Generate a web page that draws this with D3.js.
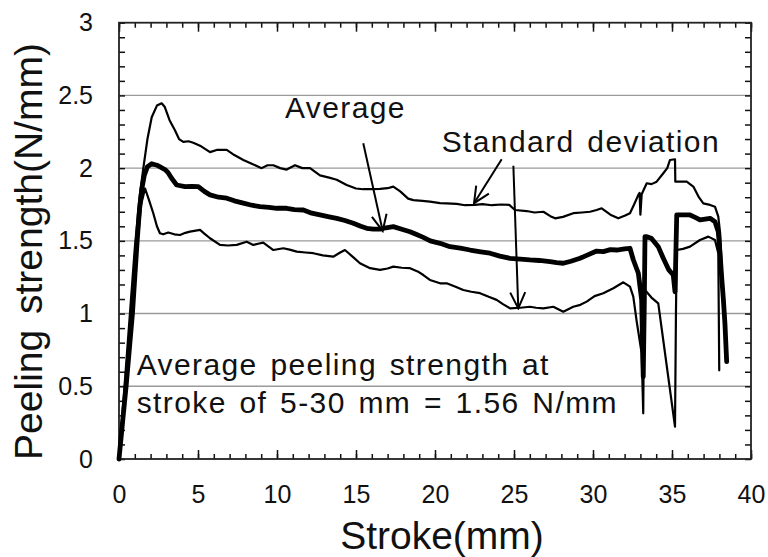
<!DOCTYPE html>
<html>
<head>
<meta charset="utf-8">
<script src="https://cdn.jsdelivr.net/npm/d3@7/dist/d3.min.js"></script>
<style>
  html, body { margin: 0; padding: 0; background: #fff; }
  svg { display: block; font-family: "Liberation Sans", Arial, Helvetica, sans-serif; }
</style>
</head>
<body>
<svg id="chart" width="768" height="557"></svg>
<script>
// Peel test: stroke (mm) vs peeling strength (N/mm)
const xMajorTicks = [0, 5, 10, 15, 20, 25, 30, 35, 40];
const yMajorTicks = [0, 0.5, 1, 1.5, 2, 2.5, 3];
const yGridLines = [0.5, 1, 1.5, 2, 2.5];

// mean + standard deviation
const upperSeries = [
  [0,0],[0.5,0.72],[1.0,1.45],[1.3,1.8],[1.54,2.0],[1.8,2.2],[2.07,2.35],[2.4,2.43],[2.7,2.446],
  [2.9,2.42],[3.2,2.33],[3.54,2.26],[3.8,2.2],[4.07,2.18],[4.4,2.185],[4.7,2.175],[5.2,2.15],
  [5.76,2.11],[6.18,2.125],[6.82,2.125],[7.3,2.09],[7.87,2.056],[8.4,2.03],[9.03,2.0],[9.4,2.02],
  [9.77,2.02],[10.2,2.0],[10.61,1.99],[11.14,2.02],[11.6,2.0],[12.09,2.0],[12.72,1.95],[13.3,1.935],
  [13.78,1.92],[14.41,1.884],[15.0,1.86],[15.46,1.855],[16.0,1.855],[16.52,1.858],[17.0,1.862],
  [17.36,1.873],[17.8,1.84],[18.3,1.79],[18.63,1.78],[19.2,1.775],[19.68,1.77],[20.32,1.76],
  [20.74,1.758],[21.37,1.754],[21.9,1.745],[22.53,1.747],[23.0,1.752],[23.6,1.745],[24.2,1.75],
  [24.7,1.747],[25.06,1.712],[25.8,1.705],[26.3,1.695],[26.86,1.70],[27.3,1.67],[27.6,1.655],
  [28.1,1.665],[28.75,1.69],[29.3,1.695],[29.81,1.70],[30.23,1.712],[30.55,1.724],[31.1,1.68],
  [31.6,1.655],[32.0,1.672],[32.34,1.69],[32.6,1.75],[32.87,1.816],[32.95,1.83],[33.0,1.68],
  [33.08,1.82],[33.4,1.896],[33.7,1.89],[34.03,1.907],[34.45,1.965],[34.7,2.0],[34.87,2.056],
  [35.19,2.061],[35.21,1.907],[35.93,1.907],[36.35,1.873],[36.7,1.80],[36.98,1.758],[37.41,1.747],
  [37.72,1.735],[37.93,1.666],[38.05,1.55],[38.2,1.2],[38.4,0.85]
];

// average of the specimens
const averageSeries = [
  [0,0],[0.25,0.28],[0.45,0.5],[0.65,0.75],[0.85,1.0],[1.0,1.25],[1.15,1.5],[1.3,1.72],[1.45,1.86],
  [1.6,1.95],[1.8,2.01],[2.07,2.03],[2.4,2.02],[2.91,1.99],[3.1,1.97],[3.33,1.93],[3.65,1.884],
  [4.18,1.873],[4.6,1.875],[5.02,1.873],[5.4,1.84],[5.76,1.816],[6.3,1.80],[6.82,1.793],[7.3,1.775],
  [7.87,1.759],[8.4,1.745],[8.92,1.735],[9.5,1.73],[9.98,1.724],[10.61,1.724],[11.1,1.715],
  [11.67,1.712],[12.2,1.69],[12.72,1.678],[13.3,1.665],[13.78,1.655],[14.3,1.64],[14.83,1.621],
  [15.3,1.60],[15.68,1.586],[16.1,1.58],[16.52,1.58],[16.9,1.59],[17.36,1.598],[17.9,1.58],
  [18.42,1.563],[18.8,1.545],[19.26,1.524],[19.7,1.50],[20.32,1.483],[20.95,1.46],[21.6,1.45],
  [22.22,1.437],[22.9,1.425],[23.48,1.415],[24.1,1.395],[24.75,1.38],[25.4,1.375],[26.01,1.369],
  [26.6,1.365],[27.28,1.357],[27.7,1.35],[28.12,1.346],[28.6,1.36],[29.18,1.38],[29.6,1.40],
  [30.23,1.43],[30.65,1.426],[31.1,1.44],[31.5,1.437],[32.0,1.445],[32.34,1.449],[32.55,1.37],
  [32.87,1.277],[33.08,1.094],[33.18,0.566],[33.25,1.10],[33.29,1.529],[33.37,1.529],[33.69,1.518],
  [34.13,1.46],[34.45,1.38],[34.8,1.30],[35.08,1.265],[35.19,1.15],[35.3,1.678],[35.7,1.678],
  [36.14,1.678],[36.5,1.66],[36.77,1.644],[37.1,1.65],[37.41,1.655],[37.72,1.632],[37.93,1.563],
  [38.05,1.40],[38.14,1.254],[38.25,1.10],[38.35,0.933],[38.46,0.67]
];

// mean - standard deviation
const lowerSeries = [
  [0,0],[0.4,0.45],[0.75,0.95],[1.1,1.4],[1.4,1.75],[1.65,1.86],[1.9,1.78],[2.17,1.69],[2.4,1.6],
  [2.59,1.552],[2.8,1.545],[3.12,1.557],[3.5,1.545],[3.86,1.54],[4.2,1.555],[4.49,1.563],
  [5.13,1.575],[5.4,1.55],[5.76,1.518],[6.39,1.472],[6.9,1.468],[7.45,1.472],[8.08,1.494],
  [8.5,1.472],[8.8,1.48],[9.13,1.488],[9.77,1.437],[10.4,1.449],[10.8,1.44],[11.25,1.426],
  [11.8,1.42],[12.3,1.415],[12.9,1.40],[13.56,1.391],[14.0,1.42],[14.3,1.437],[14.8,1.39],
  [15.25,1.346],[15.89,1.312],[16.52,1.30],[17.0,1.31],[17.36,1.323],[17.9,1.315],[18.42,1.312],
  [18.9,1.29],[19.26,1.265],[19.68,1.231],[20.32,1.208],[20.74,1.208],[21.3,1.185],[21.79,1.162],
  [22.3,1.15],[22.85,1.14],[23.4,1.115],[23.9,1.094],[24.3,1.065],[24.75,1.036],[25.4,1.04],
  [26.01,1.047],[26.4,1.04],[26.86,1.036],[27.49,1.047],[28.12,1.013],[28.75,1.047],[29.2,1.06],
  [29.6,1.082],[30.1,1.12],[30.65,1.14],[31.29,1.174],[31.92,1.215],[32.34,1.185],[32.55,1.116],
  [32.76,0.95],[33.08,0.727],[33.18,0.314],[33.22,0.9],[33.29,1.162],[33.7,1.11],[34.13,1.07],
  [35.19,0.222],[35.25,1.0],[35.3,1.437],[35.7,1.445],[36.14,1.46],[36.77,1.506],[37.3,1.529],
  [37.72,1.506],[37.93,1.415],[37.99,0.61]
];

// annotation arrows in data units: [fromX, fromY, toX, toY]
const averageArrow = [15.46, 2.171, 16.69, 1.568];
const sdArrows = [
  [24.22, 2.061, 22.47, 1.759],
  [24.96, 2.017, 25.27, 1.036]
];
const noteLines = ["Average peeling strength at", "stroke of 5-30 mm = 1.56 N/mm"];

const svg = d3.select("#chart");
const margin = { left: 119, right: 17, top: 22.7, bottom: 98 };
const W = 768, H = 557;

const x = d3.scaleLinear().domain([0, 40]).range([margin.left, W - margin.right]);
const y = d3.scaleLinear().domain([0, 3]).range([H - margin.bottom, margin.top]);

const minorX = d3.range(0, 41, 1);
const minorY = d3.range(0, 31, 1).map(d => d / 10);

// horizontal grid
svg.append("g").selectAll("line").data(yGridLines).join("line")
  .attr("x1", x(0)).attr("x2", x(40))
  .attr("y1", d => y(d)).attr("y2", d => y(d))
  .attr("stroke", "#9a9a9a").attr("stroke-width", 1.4);

// axes with inward ticks
const tickFont = g => g.selectAll("text")
  .attr("font-size", 25).attr("fill", "#111")
  .attr("font-family", "'Liberation Sans', Arial, sans-serif");
const cleanAxis = g => { g.select(".domain").remove(); g.selectAll("line").attr("stroke", "#111").attr("stroke-width", 1.5); };

// bottom
svg.append("g").attr("transform", `translate(0,${y(0)})`)
  .call(d3.axisBottom(x).tickValues(minorX).tickSize(-5).tickFormat(""))
  .call(cleanAxis);
svg.append("g").attr("transform", `translate(0,${y(0)})`)
  .call(d3.axisBottom(x).tickValues(xMajorTicks).tickSize(-9).tickPadding(26).tickFormat(d3.format("d")))
  .call(cleanAxis).call(tickFont);
// top
svg.append("g").attr("transform", `translate(0,${y(3)})`)
  .call(d3.axisTop(x).tickValues(minorX).tickSize(-5).tickFormat(""))
  .call(cleanAxis);
svg.append("g").attr("transform", `translate(0,${y(3)})`)
  .call(d3.axisTop(x).tickValues(xMajorTicks).tickSize(-9).tickFormat(""))
  .call(cleanAxis);
// left
svg.append("g").attr("transform", `translate(${x(0)},0)`)
  .call(d3.axisLeft(y).tickValues(minorY).tickSize(-6).tickFormat(""))
  .call(cleanAxis);
svg.append("g").attr("transform", `translate(${x(0)},0)`)
  .call(d3.axisLeft(y).tickValues(yMajorTicks).tickSize(0).tickPadding(26).tickFormat(d => d3.format("")(d)))
  .call(cleanAxis).call(tickFont);
// right
svg.append("g").attr("transform", `translate(${x(40)},0)`)
  .call(d3.axisRight(y).tickValues(minorY).tickSize(-6).tickFormat(""))
  .call(cleanAxis);

// frame
svg.append("rect")
  .attr("x", x(0)).attr("y", y(3))
  .attr("width", x(40) - x(0)).attr("height", y(0) - y(3))
  .attr("fill", "none").attr("stroke", "#222").attr("stroke-width", 1.8);

// curves
const line = d3.line().x(d => x(d[0])).y(d => y(d[1]));
const curves = svg.append("g").attr("fill", "none").attr("stroke", "#000")
  .attr("stroke-linejoin", "round").attr("stroke-linecap", "round");
curves.append("path").datum(upperSeries).attr("d", line).attr("stroke-width", 2.2);
curves.append("path").datum(lowerSeries).attr("d", line).attr("stroke-width", 2.2);
curves.append("path").datum(averageSeries).attr("d", line).attr("stroke-width", 4.8);

// arrow marker (open V head)
svg.append("defs").append("marker")
  .attr("id", "vhead").attr("markerUnits", "userSpaceOnUse")
  .attr("viewBox", "-20 -10 22 20").attr("refX", 0).attr("refY", 0)
  .attr("markerWidth", 22).attr("markerHeight", 20).attr("orient", "auto")
  .append("path").attr("d", "M-16,-7.5 L0,0 L-16,7.5")
  .attr("fill", "none").attr("stroke", "#000").attr("stroke-width", 2);

const arrows = svg.append("g").attr("stroke", "#000").attr("stroke-width", 2);
[averageArrow, ...sdArrows].forEach(a => {
  arrows.append("line")
    .attr("x1", x(a[0])).attr("y1", y(a[1]))
    .attr("x2", x(a[2])).attr("y2", y(a[3]))
    .attr("marker-end", "url(#vhead)");
});

// annotation labels
const noteStyle = sel => sel.attr("font-size", 30).attr("fill", "#111")
  .attr("letter-spacing", "1.4px").attr("word-spacing", "3px");
svg.append("text").attr("x", x(10.5)).attr("y", y(2.343)).text("Average").call(noteStyle);
svg.append("text").attr("x", x(20.42)).attr("y", y(2.113)).text("Standard deviation").call(noteStyle);
svg.append("text").attr("x", x(1.12)).attr("y", y(0.578)).text(noteLines[0]).call(noteStyle);
svg.append("text").attr("x", x(1.12)).attr("y", y(0.316)).text(noteLines[1]).call(noteStyle);

// axis titles
svg.append("text")
  .attr("x", 442).attr("y", 549).attr("text-anchor", "middle")
  .attr("font-size", 39).attr("fill", "#111")
  .text("Stroke(mm)");
svg.append("text")
  .attr("transform", "translate(42,251.5) rotate(-90)")
  .attr("text-anchor", "middle")
  .attr("font-size", 39).attr("fill", "#111").attr("word-spacing", "5px")
  .text("Peeling strength(N/mm)");
</script>
</body>
</html>
